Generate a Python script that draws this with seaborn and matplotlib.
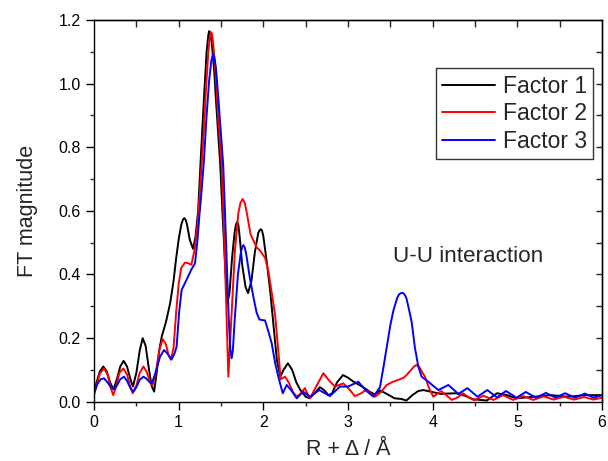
import numpy as np
import pandas as pd
import matplotlib
matplotlib.use("Agg")
import matplotlib.pyplot as plt
import seaborn as sns
from matplotlib.ticker import MultipleLocator

# ---------------- data ----------------
f1_x = [0.00, 0.03, 0.07, 0.11, 0.15, 0.19, 0.23, 0.27, 0.31, 0.35, 0.39, 0.43, 0.46, 0.50,
        0.54, 0.575, 0.61, 0.65, 0.68, 0.71, 0.74, 0.77, 0.80, 0.85, 0.90, 0.94, 0.97, 1.00,
        1.03, 1.05, 1.067, 1.085, 1.10, 1.13, 1.17, 1.20, 1.23, 1.26, 1.30, 1.33, 1.35, 1.36,
        1.37, 1.39, 1.42, 1.44, 1.49, 1.52, 1.55, 1.575, 1.60, 1.63, 1.66, 1.675, 1.69, 1.705,
        1.72, 1.75, 1.79, 1.82, 1.86, 1.90, 1.94, 1.955, 1.97, 1.985, 2.00, 2.04, 2.08, 2.12,
        2.16, 2.20, 2.24, 2.29, 2.34, 2.39, 2.44, 2.50, 2.55, 2.60, 2.67, 2.72, 2.77, 2.81,
        2.87, 2.94, 3.00, 3.05, 3.10, 3.18, 3.26, 3.32, 3.38, 3.45, 3.55, 3.63, 3.69, 3.76,
        3.83, 3.89, 3.96, 4.09, 4.18, 4.28, 4.38, 4.48, 4.64, 4.76, 4.88, 4.99, 5.20, 5.40,
        5.60, 5.80, 6.00]
f1_y = [0.031, 0.060, 0.095, 0.110, 0.095, 0.060, 0.038, 0.070, 0.110, 0.128, 0.110, 0.070,
        0.047, 0.090, 0.160, 0.199, 0.175, 0.100, 0.050, 0.031, 0.090, 0.160, 0.204, 0.250,
        0.310, 0.380, 0.450, 0.510, 0.555, 0.572, 0.577, 0.570, 0.555, 0.510, 0.480, 0.520,
        0.600, 0.760, 0.960, 1.100, 1.152, 1.165, 1.160, 1.130, 1.040, 0.950, 0.750, 0.580,
        0.420, 0.310, 0.340, 0.450, 0.530, 0.555, 0.565, 0.555, 0.520, 0.430, 0.360, 0.341,
        0.380, 0.470, 0.530, 0.538, 0.542, 0.537, 0.520, 0.440, 0.350, 0.240, 0.130, 0.078,
        0.100, 0.120, 0.100, 0.060, 0.035, 0.015, 0.010, 0.025, 0.045, 0.035, 0.020, 0.025,
        0.060, 0.083, 0.075, 0.065, 0.057, 0.045, 0.030, 0.022, 0.035, 0.025, 0.010, 0.008,
        0.003, 0.020, 0.033, 0.036, 0.032, 0.024, 0.025, 0.026, 0.018, 0.007, 0.003, 0.026,
        0.020, 0.010, 0.015, 0.020, 0.015, 0.020, 0.020]

f2_x = [0.00, 0.03, 0.07, 0.118, 0.16, 0.20, 0.228, 0.26, 0.30, 0.346, 0.39, 0.43, 0.457,
        0.50, 0.54, 0.583, 0.62, 0.66, 0.69, 0.73, 0.77, 0.811, 0.85, 0.88, 0.909, 0.94, 0.97,
        1.00, 1.03, 1.075, 1.11, 1.15, 1.19, 1.22, 1.25, 1.27, 1.29, 1.32, 1.35, 1.37, 1.382,
        1.395, 1.41, 1.44, 1.47, 1.508, 1.53, 1.56, 1.587, 1.62, 1.665, 1.705, 1.73, 1.756,
        1.78, 1.80, 1.85, 1.921, 1.96, 2.02, 2.06, 2.10, 2.14, 2.17, 2.205, 2.256, 2.30, 2.35,
        2.394, 2.44, 2.49, 2.55, 2.62, 2.709, 2.78, 2.846, 2.945, 3.01, 3.08, 3.15, 3.21, 3.27,
        3.32, 3.39, 3.457, 3.53, 3.594, 3.66, 3.712, 3.78, 3.81, 3.84, 3.87, 3.91, 3.96, 4.008,
        4.10, 4.16, 4.224, 4.29, 4.36, 4.43, 4.49, 4.60, 4.72, 4.83, 4.95, 5.07, 5.19, 5.31,
        5.43, 5.55, 5.67, 5.79, 5.90, 6.00]
f2_y = [0.020, 0.050, 0.088, 0.104, 0.085, 0.040, 0.020, 0.045, 0.090, 0.104, 0.085, 0.045,
        0.026, 0.050, 0.090, 0.110, 0.095, 0.065, 0.050, 0.090, 0.160, 0.196, 0.180, 0.145,
        0.131, 0.170, 0.280, 0.370, 0.420, 0.437, 0.435, 0.430, 0.480, 0.550, 0.656, 0.740,
        0.820, 0.970, 1.100, 1.150, 1.162, 1.155, 1.120, 1.020, 0.880, 0.740, 0.580, 0.320,
        0.078, 0.250, 0.477, 0.593, 0.625, 0.637, 0.625, 0.600, 0.525, 0.485, 0.475, 0.452,
        0.410, 0.340, 0.270, 0.180, 0.070, 0.078, 0.060, 0.030, 0.015, 0.025, 0.042, 0.010,
        0.045, 0.089, 0.065, 0.047, 0.057, 0.040, 0.017, 0.025, 0.036, 0.025, 0.015, 0.030,
        0.052, 0.062, 0.068, 0.075, 0.089, 0.110, 0.115, 0.110, 0.095, 0.078, 0.040, 0.015,
        0.033, 0.020, 0.005, 0.012, 0.026, 0.012, 0.004, 0.018, 0.005, 0.020, 0.005, 0.017,
        0.005, 0.016, 0.006, 0.015, 0.006, 0.014, 0.006, 0.012]

f3_x = [0.00, 0.04, 0.08, 0.118, 0.16, 0.20, 0.236, 0.27, 0.31, 0.354, 0.39, 0.43, 0.465,
        0.50, 0.54, 0.583, 0.62, 0.66, 0.681, 0.72, 0.78, 0.827, 0.87, 0.917, 0.95, 0.976,
        1.005, 1.035, 1.07, 1.114, 1.15, 1.193, 1.22, 1.244, 1.27, 1.299, 1.33, 1.36, 1.385,
        1.40, 1.409, 1.42, 1.44, 1.47, 1.50, 1.527, 1.56, 1.59, 1.61, 1.626, 1.64, 1.66, 1.70,
        1.735, 1.75, 1.764, 1.78, 1.80, 1.84, 1.882, 1.92, 1.953, 1.99, 2.02, 2.06, 2.099,
        2.14, 2.177, 2.229, 2.276, 2.33, 2.394, 2.47, 2.55, 2.66, 2.787, 2.905, 3.00, 3.122,
        3.21, 3.30, 3.378, 3.42, 3.457, 3.50, 3.535, 3.58, 3.60, 3.625, 3.646, 3.67, 3.69,
        3.72, 3.752, 3.79, 3.83, 3.87, 3.95, 4.067, 4.185, 4.303, 4.41, 4.53, 4.645, 4.76,
        4.866, 4.99, 5.10, 5.22, 5.338, 5.45, 5.563, 5.68, 5.80, 5.90, 6.00]
f3_y = [0.026, 0.055, 0.070, 0.073, 0.060, 0.045, 0.038, 0.050, 0.070, 0.078, 0.065, 0.042,
        0.031, 0.045, 0.068, 0.078, 0.072, 0.060, 0.057, 0.085, 0.141, 0.162, 0.150, 0.133,
        0.150, 0.173, 0.280, 0.351, 0.370, 0.395, 0.415, 0.435, 0.500, 0.582, 0.660, 0.760,
        0.900, 1.010, 1.070, 1.087, 1.091, 1.085, 1.050, 0.950, 0.840, 0.740, 0.500, 0.270,
        0.165, 0.136, 0.160, 0.250, 0.400, 0.470, 0.485, 0.492, 0.485, 0.460, 0.390, 0.330,
        0.280, 0.258, 0.256, 0.255, 0.220, 0.183, 0.120, 0.078, 0.026, 0.052, 0.035, 0.010,
        0.031, 0.015, 0.036, 0.017, 0.047, 0.047, 0.062, 0.035, 0.015, 0.045, 0.110, 0.170,
        0.240, 0.285, 0.325, 0.336, 0.341, 0.342, 0.336, 0.325, 0.290, 0.250, 0.170, 0.110,
        0.078, 0.062, 0.036, 0.052, 0.024, 0.042, 0.015, 0.036, 0.013, 0.033, 0.012, 0.030,
        0.012, 0.027, 0.012, 0.026, 0.012, 0.025, 0.012, 0.020]

series_names = ["Factor 1", "Factor 2", "Factor 3"]
series_colors = ["#000000", "#ff0000", "#0000ff"]
x_ticks = [0, 1, 2, 3, 4, 5, 6]
y_ticks = [0.0, 0.2, 0.4, 0.6, 0.8, 1.0, 1.2]
x_label = "R + \u0394 / \u00c5"
y_label = "FT magnitude"
annotation = "U-U interaction"

# ---------------- build long-form table ----------------
frames = []
for name, xs, ys in zip(series_names, [f1_x, f2_x, f3_x], [f1_y, f2_y, f3_y]):
    frames.append(pd.DataFrame({"R": xs, "FT": ys, "series": name}))
df = pd.concat(frames, ignore_index=True)

sns.set_theme(style="ticks")
plt.rcParams["font.family"] = ["Liberation Sans", "DejaVu Sans"]
plt.rcParams["axes.linewidth"] = 1.0

fig = plt.figure(figsize=(6.08, 4.61), dpi=100)
ax = fig.add_axes([94 / 608, 1 - 401.5 / 461, 508 / 608, 381.5 / 461])

sns.lineplot(data=df, x="R", y="FT", hue="series", hue_order=series_names,
             palette=series_colors, estimator=None, sort=False, units="series",
             linewidth=1.4, ax=ax, legend=True)

ax.set_xlim(0, 6)
ax.set_ylim(0, 1.2)
ax.set_xticks(x_ticks)
ax.set_yticks(y_ticks)
ax.set_xticklabels([str(t) for t in x_ticks])
ax.set_yticklabels([f"{t:.1f}" for t in y_ticks])
ax.xaxis.set_minor_locator(MultipleLocator(0.5))
ax.yaxis.set_minor_locator(MultipleLocator(0.1))
ax.tick_params(which="major", direction="out", length=6, width=1, labelsize=11.5,
               colors="black")
ax.tick_params(which="minor", direction="out", length=3, width=1)
ax.tick_params(axis="x", pad=4)

for sp in ax.spines.values():
    sp.set_visible(True)
    sp.set_color("black")
    sp.set_linewidth(1.0)

top = ax.secondary_xaxis("top")
top.set_xticks(np.arange(0.5, 6.0, 0.5))
top.tick_params(direction="in", length=5, width=1, labeltop=False)
right = ax.secondary_yaxis("right")
right.set_yticks(np.arange(0.1, 1.2, 0.1))
right.tick_params(direction="in", length=4, width=1, labelright=False)

ax.set_xlabel(x_label, fontsize=15.5, labelpad=6)
ax.set_ylabel(y_label, fontsize=15.5, labelpad=15)

ax.text(3.535, 0.440, annotation, fontsize=16.2, ha="left", va="baseline")

handles, labels = ax.get_legend_handles_labels()
leg = ax.legend(handles, labels, loc="upper right", bbox_to_anchor=(0.983, 0.873),
                borderaxespad=0, fontsize=16.5, frameon=True, fancybox=False,
                edgecolor="black", handlelength=2.3, handletextpad=0.35,
                labelspacing=0.2, borderpad=0.28)
leg.get_frame().set_linewidth(1.0)
for line in leg.get_lines():
    line.set_linewidth(1.4)

fig.savefig("out.png", dpi=100)
